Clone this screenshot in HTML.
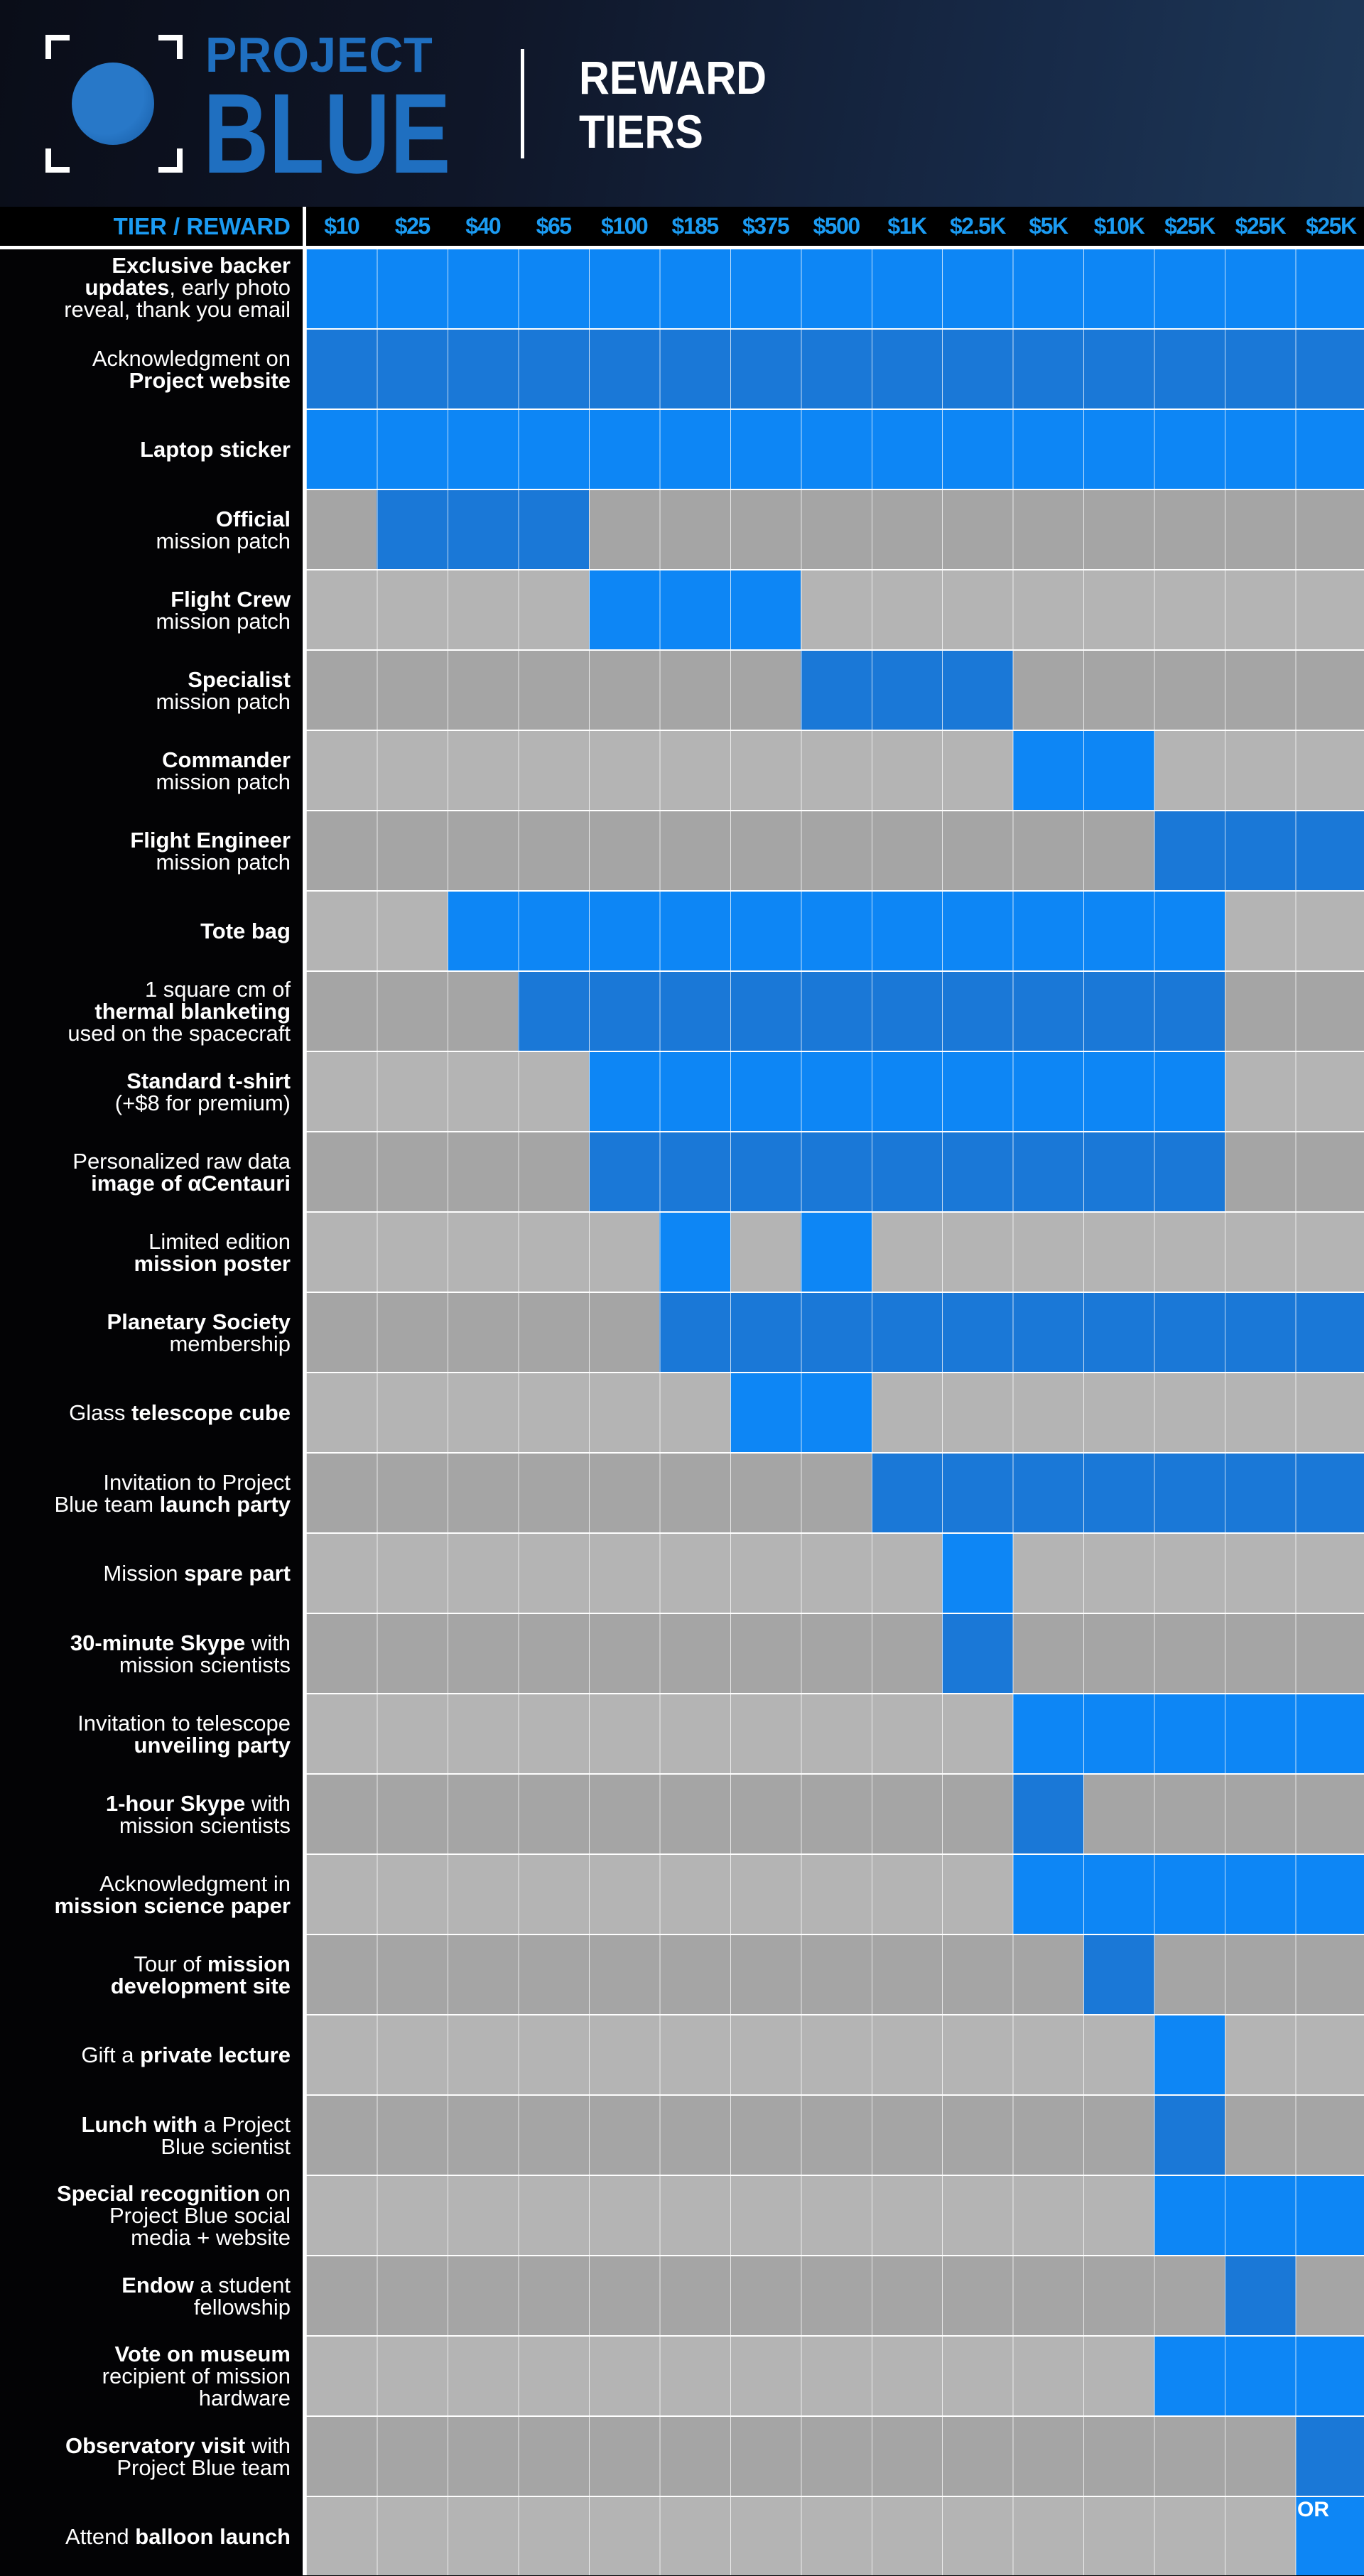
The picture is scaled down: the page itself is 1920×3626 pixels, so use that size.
<!DOCTYPE html>
<html><head><meta charset="utf-8"><style>
*{margin:0;padding:0;box-sizing:border-box}
body{width:1920px;height:3625px;position:relative;background:#030305;overflow:hidden;font-family:"Liberation Sans Narrow","Liberation Sans",sans-serif}
#hdr{position:absolute;left:0;top:0;width:1920px;height:291px;background:linear-gradient(100deg,#0a0d18 0%,#0f1628 35%,#172a48 75%,#1e3858 100%)}
.br{position:absolute;width:34px;height:34px;border:8px solid #fff}
.abs{position:absolute}
#hrow{position:absolute;left:0;top:291px;width:1920px;height:55px;background:#000}
.th{position:absolute;top:291px;height:55px;line-height:55px;width:99.47px;text-align:center;color:#1b9bf2;font-weight:bold;font-size:32px;letter-spacing:-1.5px}
#grid{position:absolute;left:431px;top:346px;width:1489px;height:3279px;background:#fff}
.row{position:absolute;left:431px;width:1489px;height:111px}
.l{background:#b4b4b4}.d{background:#a5a5a5}
.bl{position:absolute;height:111px}
.bl.l{background:#0d86f5}.bl.d{background:#1a78d7}
#cols{position:absolute;left:431px;top:346px;width:1489px;height:3279px;background:repeating-linear-gradient(to right,rgba(255,255,255,.75) 0 1px,transparent 1px 99.47px)}
.lab{position:absolute;left:0;width:409px;display:flex;align-items:center;justify-content:flex-end;text-align:right;color:#fff;font-size:31px;line-height:31px;height:111px}
.lab b{font-weight:bold}
</style></head><body>
<div id="hdr">
 <div class="br" style="left:64px;top:49px;border-right:none;border-bottom:none"></div>
 <div class="br" style="left:223px;top:49px;border-left:none;border-bottom:none"></div>
 <div class="br" style="left:64px;top:209px;border-right:none;border-top:none"></div>
 <div class="br" style="left:223px;top:209px;border-left:none;border-top:none"></div>
 <div class="abs" style="left:101px;top:88px;width:116px;height:116px;border-radius:50%;background:radial-gradient(circle at 40% 40%,#2878c8 55%,#1558a0 100%)"></div>
 <div class="abs" style="left:289px;top:42px;font-size:70px;line-height:70px;font-weight:bold;color:#1f6fc0;letter-spacing:1px;transform:scaleX(0.95);transform-origin:left">PROJECT</div>
 <div class="abs" style="left:286px;top:108px;font-size:160px;line-height:160px;font-weight:bold;color:#1f6fc0;transform:scaleX(0.8);transform-origin:left">BLUE</div>
 <div class="abs" style="left:733px;top:69px;width:5px;height:154px;background:#fff"></div>
 <div class="abs" style="left:815px;top:76px;font-size:66px;line-height:66px;font-weight:bold;color:#fff;transform:scaleX(0.9);transform-origin:left">REWARD</div>
 <div class="abs" style="left:815px;top:152px;font-size:66px;line-height:66px;font-weight:bold;color:#fff;transform:scaleX(0.9);transform-origin:left">TIERS</div>
</div>
<div id="hrow"></div>
<div class="abs" style="left:426px;top:291px;width:5px;height:3334px;background:#fff"></div>
<div class="abs" style="left:0;top:346px;width:1920px;height:5px;background:#fff"></div>
<div class="abs" style="left:0;top:291px;width:409px;height:55px;line-height:55px;text-align:right;color:#1b9bf2;font-weight:bold;font-size:33px">TIER / REWARD</div>
<div class="th" style="left:431px">$10</div><div class="th" style="left:530.5px">$25</div><div class="th" style="left:630px">$40</div><div class="th" style="left:729.4px">$65</div><div class="th" style="left:828.9px">$100</div><div class="th" style="left:928.4px">$185</div><div class="th" style="left:1027.8px">$375</div><div class="th" style="left:1127.3px">$500</div><div class="th" style="left:1226.8px">$1K</div><div class="th" style="left:1326.2px">$2.5K</div><div class="th" style="left:1425.7px">$5K</div><div class="th" style="left:1525.2px">$10K</div><div class="th" style="left:1624.6px">$25K</div><div class="th" style="left:1724.1px">$25K</div><div class="th" style="left:1823.6px">$25K</div>
<div id="grid"></div>
<div class="row l" style="top:351px"><div class="bl l" style="left:0;width:1489px"></div></div>
<div class="row d" style="top:464px"><div class="bl d" style="left:0;width:1489px"></div></div>
<div class="row l" style="top:577px"><div class="bl l" style="left:0;width:1489px"></div></div>
<div class="row d" style="top:690px"><div class="bl d" style="left:99.47px;width:298.4px"></div></div>
<div class="row l" style="top:803px"><div class="bl l" style="left:397.9px;width:298.4px"></div></div>
<div class="row d" style="top:916px"><div class="bl d" style="left:696.3px;width:298.4px"></div></div>
<div class="row l" style="top:1029px"><div class="bl l" style="left:994.7px;width:198.9px"></div></div>
<div class="row d" style="top:1142px"><div class="bl d" style="left:1193.6px;width:298.4px"></div></div>
<div class="row l" style="top:1255px"><div class="bl l" style="left:198.9px;width:1094.2px"></div></div>
<div class="row d" style="top:1368px"><div class="bl d" style="left:298.4px;width:994.7px"></div></div>
<div class="row l" style="top:1481px"><div class="bl l" style="left:397.9px;width:895.2px"></div></div>
<div class="row d" style="top:1594px"><div class="bl d" style="left:397.9px;width:895.2px"></div></div>
<div class="row l" style="top:1707px"><div class="bl l" style="left:497.4px;width:99.47px"></div><div class="bl l" style="left:696.3px;width:99.47px"></div></div>
<div class="row d" style="top:1820px"><div class="bl d" style="left:497.4px;width:991.6px"></div></div>
<div class="row l" style="top:1933px"><div class="bl l" style="left:596.8px;width:198.9px"></div></div>
<div class="row d" style="top:2046px"><div class="bl d" style="left:795.8px;width:693.2px"></div></div>
<div class="row l" style="top:2159px"><div class="bl l" style="left:895.2px;width:99.47px"></div></div>
<div class="row d" style="top:2272px"><div class="bl d" style="left:895.2px;width:99.47px"></div></div>
<div class="row l" style="top:2385px"><div class="bl l" style="left:994.7px;width:494.3px"></div></div>
<div class="row d" style="top:2498px"><div class="bl d" style="left:994.7px;width:99.47px"></div></div>
<div class="row l" style="top:2611px"><div class="bl l" style="left:994.7px;width:494.3px"></div></div>
<div class="row d" style="top:2724px"><div class="bl d" style="left:1094.2px;width:99.47px"></div></div>
<div class="row l" style="top:2837px"><div class="bl l" style="left:1193.6px;width:99.47px"></div></div>
<div class="row d" style="top:2950px"><div class="bl d" style="left:1193.6px;width:99.47px"></div></div>
<div class="row l" style="top:3063px"><div class="bl l" style="left:1193.6px;width:295.4px"></div></div>
<div class="row d" style="top:3176px"><div class="bl d" style="left:1293.1px;width:99.47px"></div></div>
<div class="row l" style="top:3289px"><div class="bl l" style="left:1193.6px;width:295.4px"></div></div>
<div class="row d" style="top:3402px"><div class="bl d" style="left:1392.6px;width:96.4px"></div></div>
<div class="row l" style="top:3515px;height:110px"><div class="bl l" style="left:1392.6px;width:96.4px;height:110px"></div></div>
<div id="cols"></div>
<div class="abs" style="left:1826px;top:3516px;color:#fff;font-weight:bold;font-size:30px">OR</div>

<div class="lab" style="top:351px;height:107px"><span><b>Exclusive backer<br>updates</b>, early photo<br>reveal, thank you email</span></div>
<div class="lab" style="top:464px"><span>Acknowledgment on<br><b>Project website</b></span></div>
<div class="lab" style="top:577px"><span><b>Laptop sticker</b></span></div>
<div class="lab" style="top:690px"><span><b>Official</b><br>mission patch</span></div>
<div class="lab" style="top:803px"><span><b>Flight Crew</b><br>mission patch</span></div>
<div class="lab" style="top:916px"><span><b>Specialist</b><br>mission patch</span></div>
<div class="lab" style="top:1029px"><span><b>Commander</b><br>mission patch</span></div>
<div class="lab" style="top:1142px"><span><b>Flight Engineer</b><br>mission patch</span></div>
<div class="lab" style="top:1255px"><span><b>Tote bag</b></span></div>
<div class="lab" style="top:1368px"><span>1 square cm of<br><b>thermal blanketing</b><br>used on the spacecraft</span></div>
<div class="lab" style="top:1481px"><span><b>Standard t-shirt</b><br>(+$8 for premium)</span></div>
<div class="lab" style="top:1594px"><span>Personalized raw data<br><b>image of αCentauri</b></span></div>
<div class="lab" style="top:1707px"><span>Limited edition<br><b>mission poster</b></span></div>
<div class="lab" style="top:1820px"><span><b>Planetary Society</b><br>membership</span></div>
<div class="lab" style="top:1933px"><span>Glass <b>telescope cube</b></span></div>
<div class="lab" style="top:2046px"><span>Invitation to Project<br>Blue team <b>launch party</b></span></div>
<div class="lab" style="top:2159px"><span>Mission <b>spare part</b></span></div>
<div class="lab" style="top:2272px"><span><b>30-minute Skype</b> with<br>mission scientists</span></div>
<div class="lab" style="top:2385px"><span>Invitation to telescope<br><b>unveiling party</b></span></div>
<div class="lab" style="top:2498px"><span><b>1-hour Skype</b> with<br>mission scientists</span></div>
<div class="lab" style="top:2611px"><span>Acknowledgment in<br><b>mission science paper</b></span></div>
<div class="lab" style="top:2724px"><span>Tour of <b>mission<br>development site</b></span></div>
<div class="lab" style="top:2837px"><span>Gift a <b>private lecture</b></span></div>
<div class="lab" style="top:2950px"><span><b>Lunch with</b> a Project<br>Blue scientist</span></div>
<div class="lab" style="top:3063px"><span><b>Special recognition</b> on<br>Project Blue social<br>media + website</span></div>
<div class="lab" style="top:3176px"><span><b>Endow</b> a student<br>fellowship</span></div>
<div class="lab" style="top:3289px"><span><b>Vote on museum</b><br>recipient of mission<br>hardware</span></div>
<div class="lab" style="top:3402px"><span><b>Observatory visit</b> with<br>Project Blue team</span></div>
<div class="lab" style="top:3515px"><span>Attend <b>balloon launch</b></span></div>
</body></html>
